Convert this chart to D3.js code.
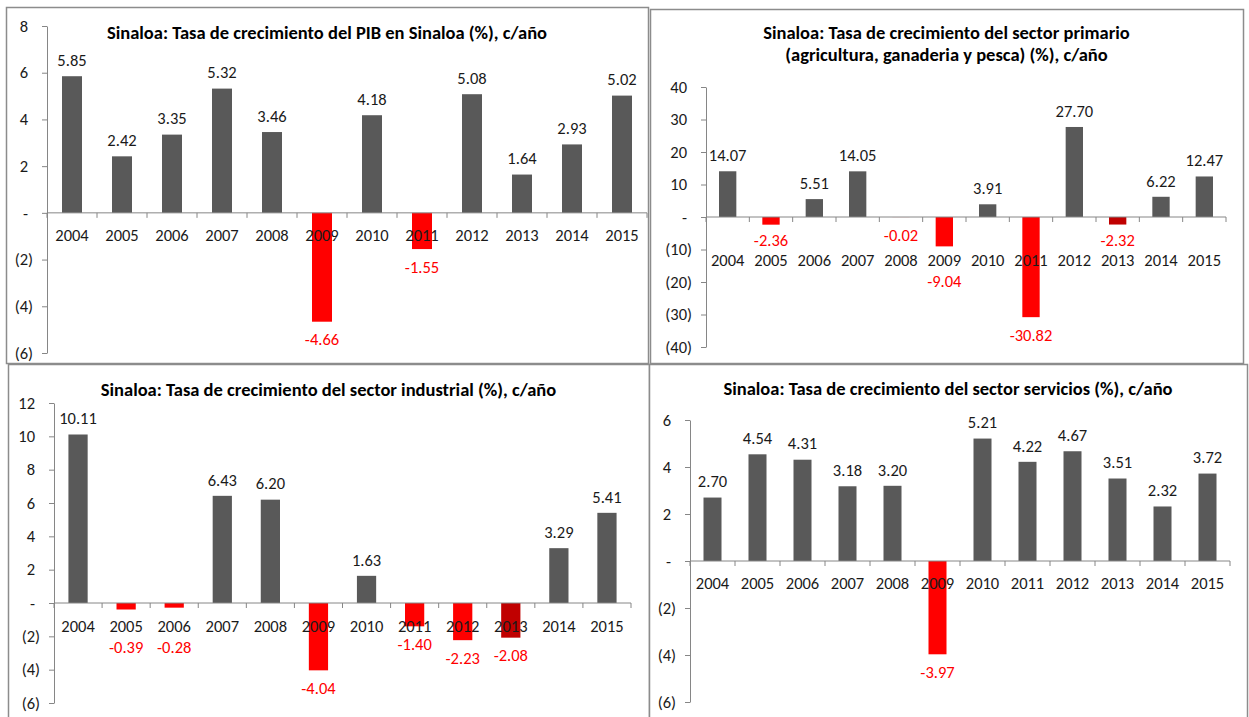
<!DOCTYPE html>
<html>
<head>
<meta charset="utf-8">
<script src="https://cdn.jsdelivr.net/npm/d3@7"></script>
<style>
  body { margin: 0; background: #fff; }
  text { font-family: Carlito, Calibri, Lato, sans-serif; }
</style>
</head>
<body>
<div id="chart"></div>
<script>
// categories (years) shared by the four charts
var years = ["2004", "2005", "2006", "2007", "2008", "2009", "2010", "2011", "2012", "2013", "2014", "2015"];

// growth rates (%)
var pibValues        = [5.85, 2.42, 3.35, 5.32, 3.46, -4.66, 4.18, -1.55, 5.08, 1.64, 2.93, 5.02];
var primarioValues   = [14.07, -2.36, 5.51, 14.05, -0.02, -9.04, 3.91, -30.82, 27.70, -2.32, 6.22, 12.47];
var industrialValues = [10.11, -0.39, -0.28, 6.43, 6.20, -4.04, 1.63, -1.40, -2.23, -2.08, 3.29, 5.41];
var serviciosValues  = [2.70, 4.54, 4.31, 3.18, 3.20, -3.97, 5.21, 4.22, 4.67, 3.51, 2.32, 3.72];

// y tick labels
var pibTicks        = [-6, -4, -2, 0, 2, 4, 6, 8];
var primarioTicks   = [-40, -30, -20, -10, 0, 10, 20, 30, 40];
var industrialTicks = [-6, -4, -2, 0, 2, 4, 6, 8, 10, 12];
var serviciosTicks  = [-6, -4, -2, 0, 2, 4, 6];

// years drawn in dark red
var primarioDark   = ["2013"];
var industrialDark = ["2013"];

var W = 1249, H = 717;
var labelSize = "16.5px";
var svg = d3.select("#chart").append("svg")
    .attr("width", W)
    .attr("height", H);

var panels = [
  {title: ["Sinaloa: Tasa de crecimiento del PIB en Sinaloa (%), c/año"], titleY: 39,
   values: pibValues, ticks: pibTicks, dark: [],
   box: [6, 7, 648, 363], x0: 47, x1: 647, yTop: 26, yBot: 353, labelOff: 22},
  {title: ["Sinaloa: Tasa de crecimiento  del sector primario", "(agricultura, ganaderia y pesca) (%), c/año"], titleY: 39,
   values: primarioValues, ticks: primarioTicks, dark: primarioDark,
   box: [650, 9, 1243, 363], x0: 706, x1: 1226, yTop: 87, yBot: 347, labelOff: 43},
  {title: ["Sinaloa: Tasa de crecimiento del sector industrial (%), c/año"], titleY: 396,
   values: industrialValues, ticks: industrialTicks, dark: industrialDark,
   box: [8, 364, 649, 722], x0: 54, x1: 631, yTop: 403, yBot: 703, labelOff: 23},
  {title: ["Sinaloa: Tasa de crecimiento del sector servicios (%), c/año"], titleY: 395,
   values: serviciosValues, ticks: serviciosTicks, dark: [],
   box: [649, 364, 1247, 722], x0: 690, x1: 1230, yTop: 420, yBot: 702, labelOff: 22}
];

function fmtTick(d) {
  if (d === 0) return "-";
  if (d < 0) return "(" + Math.abs(d) + ")";
  return String(d);
}

panels.forEach(function(p) {
  var g = svg.append("g");
  var b = p.box;

  // frame
  g.append("rect")
      .attr("x", b[0] + 0.5).attr("y", b[1] + 0.5)
      .attr("width", b[2] - b[0]).attr("height", b[3] - b[1])
      .attr("fill", "#fff")
      .attr("stroke", "#8c8c8c")
      .attr("stroke-width", 1.5);

  // title
  p.title.forEach(function(t, i) {
    g.append("text")
        .attr("x", (b[0] + b[2]) / 2)
        .attr("y", p.titleY + i * 22)
        .attr("text-anchor", "middle")
        .attr("font-weight", "bold")
        .attr("font-size", "18.5px")
        .attr("fill", "#000")
        .text(t);
  });

  var x = d3.scaleBand()
      .domain(years)
      .range([p.x0, p.x1])
      .paddingInner(0.6)
      .paddingOuter(0.3);
  var y = d3.scaleLinear()
      .domain([d3.min(p.ticks), d3.max(p.ticks)])
      .range([p.yBot, p.yTop]);
  var step = x.step();
  var zeroY = y(0);

  // bars
  g.selectAll(".bar")
      .data(p.values)
    .enter().append("rect")
      .attr("x", function(d, i) { return x(years[i]); })
      .attr("width", x.bandwidth())
      .attr("y", function(d) { return d >= 0 ? y(d) : zeroY; })
      .attr("height", function(d) { return Math.abs(y(d) - zeroY); })
      .attr("fill", function(d, i) {
        if (d >= 0) return "#595959";
        return p.dark.indexOf(years[i]) >= 0 ? "#c00000" : "#ff0000";
      });

  // y axis
  var yAxis = g.append("g")
      .attr("transform", "translate(" + p.x0 + ",0)")
      .call(d3.axisLeft(y).tickValues(p.ticks).tickFormat(fmtTick).tickSize(5).tickSizeOuter(0).tickPadding(9));
  yAxis.select(".domain").attr("stroke", "#868686");
  yAxis.selectAll(".tick line").attr("stroke", "#868686");
  yAxis.selectAll(".tick text")
      .attr("font-size", labelSize)
      .attr("font-family", "Carlito, Calibri, Lato, sans-serif")
      .attr("fill", "#1a1a1a")
      .attr("dx", function(d) { return d >= 0 ? -5 : 0; });

  // x axis line and tick marks at band edges
  g.append("line")
      .attr("x1", p.x0).attr("x2", p.x1)
      .attr("y1", zeroY).attr("y2", zeroY)
      .attr("stroke", "#868686");
  g.selectAll(".xtick")
      .data(d3.range(years.length + 1))
    .enter().append("line")
      .attr("x1", function(i) { return p.x0 + i * step; })
      .attr("x2", function(i) { return p.x0 + i * step; })
      .attr("y1", zeroY).attr("y2", zeroY + 5)
      .attr("stroke", "#868686");

  var tickY = zeroY + p.labelOff;
  g.selectAll(".xlabel")
      .data(years)
    .enter().append("text")
      .attr("x", function(d) { return x(d) + x.bandwidth() / 2; })
      .attr("y", tickY)
      .attr("dy", "0.35em")
      .attr("text-anchor", "middle")
      .attr("font-size", labelSize)
      .attr("fill", "#1a1a1a")
      .text(function(d) { return d; });

  // value labels (negatives go under the bar, clear of the year labels)
  g.selectAll(".vlabel")
      .data(p.values)
    .enter().append("text")
      .attr("x", function(d, i) { return x(years[i]) + x.bandwidth() / 2; })
      .attr("y", function(d) {
        if (d >= 0) return y(d) - 16;
        var c = y(d) + 18;
        if (Math.abs(c - tickY) < 12) c = tickY + 21;
        else if (c < tickY && tickY - c < 20) c = tickY - 20;
        return c;
      })
      .attr("dy", "0.35em")
      .attr("text-anchor", "middle")
      .attr("font-size", labelSize)
      .attr("fill", function(d) { return d >= 0 ? "#1a1a1a" : "#ff0000"; })
      .text(function(d) { return d.toFixed(2); });
});
</script>
</body>
</html>
